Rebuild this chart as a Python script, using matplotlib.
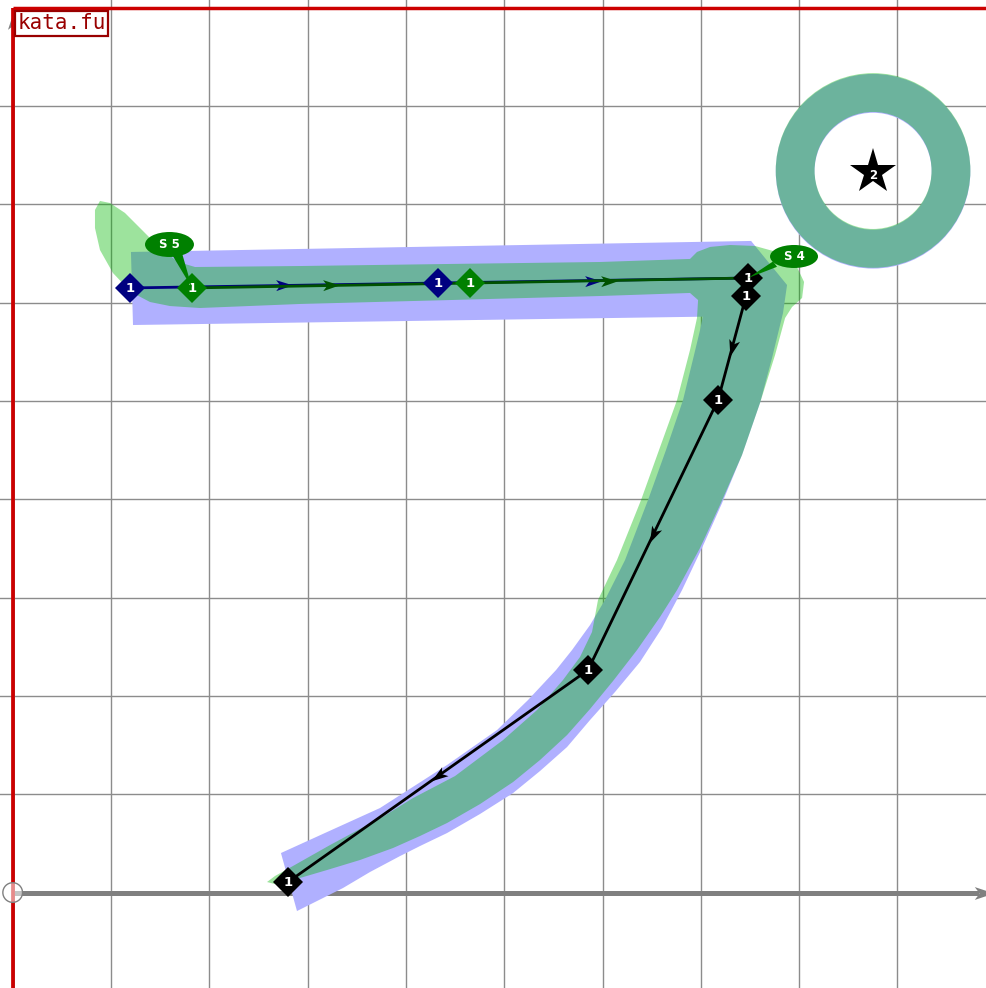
#!/usr/bin/env python3
"""
Stroke diagram for a kana: reference brush outline, traced outline,
stroke paths and labels on a square grid
"""

import matplotlib
matplotlib.use("Agg")
import matplotlib.pyplot as plt
import numpy as np
from matplotlib.markers import MarkerStyle
from matplotlib.patches import Circle, Ellipse, Polygon, Wedge
from matplotlib.path import Path
from matplotlib.transforms import Affine2D

# Canvas in grid units (one square = 1)
X_LIMITS = (-0.129, 9.911)
Y_LIMITS = (-0.971, 9.079)
GRID_X = [1, 2, 3, 4, 5, 6, 7, 8, 9]
GRID_Y = [1, 2, 3, 4, 5, 6, 7, 8]
FRAME_TOP = 9
Y_ARROW_TIP = 8.93

# Reference brush outline (lavender)
BLUE_BAR = [(1.203, 6.516), (7.511, 6.628), (7.521, 5.865), (1.224, 5.773)]
BLUE_CURVE = [
    (7.511, 6.628), (7.877, 6.180), (7.836, 5.895), (7.724, 5.437),
    (7.602, 4.980), (7.419, 4.451), (7.216, 3.962), (7.012, 3.505),
    (6.809, 3.077), (6.605, 2.691), (6.381, 2.345), (6.127, 2.040),
    (5.873, 1.755), (5.639, 1.480), (5.364, 1.236), (5.090, 1.012),
    (4.754, 0.799), (4.418, 0.605), (4.143, 0.473), (3.940, 0.371),
    (3.635, 0.209), (3.360, 0.046), (2.892, -0.188),
    (2.729, 0.402), (3.197, 0.615), (3.737, 0.860), (4.418, 1.297),
    (4.927, 1.653), (5.242, 1.958), (5.527, 2.263), (5.690, 2.467),
    (5.873, 2.721), (6.025, 2.976), (6.229, 3.382), (6.463, 3.993),
    (6.646, 4.502), (6.819, 5.010), (6.931, 5.468), (6.992, 5.722),
    (7.022, 5.865), (7.043, 6.027),
]
RING_CENTER = (8.752, 7.345)
RING_OUTER = 0.99
RING_INNER = 0.595

# Traced brush outline (translucent green)
GREEN_SHAPE = [
    (0.888, 7.035), (0.990, 7.014), (1.142, 6.913), (1.315, 6.740),
    (1.498, 6.556), (1.682, 6.414), (1.855, 6.363), (2.923, 6.373),
    (4.449, 6.394), (5.975, 6.414), (6.890, 6.445), (6.961, 6.516),
    (7.094, 6.567), (7.297, 6.587), (7.551, 6.577), (7.806, 6.506),
    (7.968, 6.384), (8.050, 6.211), (8.030, 6.048), (7.928, 5.956),
    (7.857, 5.844), (7.755, 5.468), (7.602, 4.980), (7.419, 4.451),
    (7.195, 3.942), (6.992, 3.505), (6.758, 3.077), (6.585, 2.803),
    (6.351, 2.467), (6.107, 2.152), (5.873, 1.867), (5.639, 1.602),
    (5.364, 1.348), (5.090, 1.124), (4.754, 0.900), (4.418, 0.707),
    (4.143, 0.575), (3.869, 0.453), (3.533, 0.331), (3.197, 0.229),
    (2.851, 0.127), (2.668, 0.086), (2.587, 0.107), (2.668, 0.168),
    (2.851, 0.270), (3.228, 0.483), (3.777, 0.778), (4.072, 0.961),
    (4.500, 1.185), (4.988, 1.551), (5.334, 1.857), (5.598, 2.162),
    (5.771, 2.396), (5.893, 2.650), (5.954, 2.976), (6.147, 3.382),
    (6.392, 3.993), (6.575, 4.502), (6.758, 5.010), (6.890, 5.519),
    (6.961, 5.844), (6.972, 6.027),
    (6.890, 6.099), (5.975, 6.068), (4.449, 6.027), (2.923, 5.987),
    (1.905, 5.946), (1.600, 5.966), (1.397, 6.007), (1.203, 6.109),
    (1.020, 6.302), (0.888, 6.536), (0.837, 6.760), (0.837, 6.943),
]

# Stroke paths (vertices carry the numbered diamonds)
NAVY_PATH = [(1.193, 6.150), (4.327, 6.200), (7.480, 6.251)]
GREEN_PATH = [(1.824, 6.150), (4.652, 6.200), (7.480, 6.251)]
BLACK_PATH = [(7.480, 6.251), (7.460, 6.068), (7.175, 5.010),
              (5.852, 2.263), (2.801, 0.107)]
STROKE_NUMBER = "1"

STAR_POS = (8.752, 7.330)
STAR_NUMBER = "2"

# Callout labels: text, ellipse centre, width, height, pointer base, pointer tip
CALLOUTS = [
    ("S 5", (1.595, 6.592), 0.498, 0.254,
     [(1.620, 6.490), (1.725, 6.495)], (1.824, 6.150)),
    ("S 4", (7.948, 6.470), 0.488, 0.234,
     [(7.735, 6.420), (7.775, 6.365)], (7.480, 6.251)),
]

BRAND = "kata.fu"
BRAND_POS = (0.497, 8.84)

LAVENDER = "#b0b0ff"
GREEN_FILL = (0.0, 0.72, 0.0, 0.385)
GRID_COLOR = "#8c8c8c"
AXIS_GRAY = "#808080"
FRAME_RED = "#cc0000"


def arrow_marker(angle):
    """Stealth-like arrowhead rotated to the given angle (radians)"""
    verts = [(0.5, 0.0), (-0.5, 0.33), (-0.25, 0.0), (-0.5, -0.33), (0.5, 0.0)]
    codes = [Path.MOVETO, Path.LINETO, Path.LINETO, Path.LINETO, Path.CLOSEPOLY]
    return MarkerStyle(Path(verts, codes), transform=Affine2D().rotate(angle))


def draw_grid(ax):
    for x in GRID_X:
        ax.axvline(x, color=GRID_COLOR, lw=1.0, zorder=1)
    for y in GRID_Y:
        ax.axhline(y, color=GRID_COLOR, lw=1.0, zorder=1)

    # axes
    ax.plot([0, X_LIMITS[1] - 0.08], [0, 0], color=AXIS_GRAY, lw=3.6,
            solid_capstyle="butt", zorder=1.5)
    ax.plot([X_LIMITS[1] - 0.03], [0], marker=arrow_marker(0.0), ms=14,
            color=AXIS_GRAY, mew=0, zorder=1.5)
    ax.plot([0, 0], [Y_LIMITS[0], Y_ARROW_TIP - 0.06], color=AXIS_GRAY, lw=2,
            zorder=1.5)
    ax.plot([0], [Y_ARROW_TIP - 0.06], marker=arrow_marker(np.pi / 2), ms=12,
            color=AXIS_GRAY, mew=0, zorder=1.5)

    # red frame
    ax.plot([0, 0], [Y_LIMITS[0], FRAME_TOP], color=FRAME_RED, lw=2.7,
            solid_capstyle="butt", zorder=6)
    ax.plot([0, X_LIMITS[1]], [FRAME_TOP, FRAME_TOP], color=FRAME_RED, lw=2.5,
            solid_capstyle="butt", zorder=6)
    ax.add_patch(Circle((0, 0), 0.10, facecolor=(1, 1, 1, 0.55),
                        edgecolor=AXIS_GRAY, lw=1.0, zorder=6))


def draw_outlines(ax):
    ax.add_patch(Polygon(BLUE_BAR, closed=True, facecolor=LAVENDER, lw=0, zorder=2))
    ax.add_patch(Polygon(BLUE_CURVE, closed=True, facecolor=LAVENDER, lw=0, zorder=2))
    ring_blue = (RING_CENTER[0], RING_CENTER[1] - 0.008)
    ax.add_patch(Wedge(ring_blue, RING_OUTER, 0, 360,
                       width=RING_OUTER - RING_INNER, facecolor=LAVENDER,
                       lw=0, zorder=2))
    ax.add_patch(Polygon(GREEN_SHAPE, closed=True, facecolor=GREEN_FILL, lw=0,
                         zorder=3))
    ax.add_patch(Wedge(RING_CENTER, RING_OUTER, 0, 360,
                       width=RING_OUTER - RING_INNER, facecolor=GREEN_FILL,
                       lw=0, zorder=3))


def draw_path(ax, pts, line_color, marker_color, z, marked=None):
    xs, ys = zip(*pts)
    ax.plot(xs, ys, color=line_color, lw=2.0, zorder=z, solid_capstyle="butt")
    for (x0, y0), (x1, y1) in zip(pts[:-1], pts[1:]):
        if np.hypot(x1 - x0, y1 - y0) < 0.5:
            continue
        ang = np.arctan2(y1 - y0, x1 - x0)
        ax.plot([(x0 + x1) / 2], [(y0 + y1) / 2], marker=arrow_marker(ang),
                ms=12, color=line_color, mew=0, zorder=z)
    marked = pts if marked is None else marked
    for x, y in marked:
        ax.plot([x], [y], marker="D", ms=15, color=marker_color, mew=0,
                zorder=z + 0.5)
        ax.text(x, y - 0.005, STROKE_NUMBER, color="white", fontsize=9.5,
                fontweight="bold", ha="center", va="center", zorder=z + 0.6)


def draw_labels(ax):
    ax.plot([STAR_POS[0]], [STAR_POS[1]], marker="*", ms=34.5, color="black",
            mew=0, zorder=7)
    ax.text(STAR_POS[0], STAR_POS[1] - 0.04, STAR_NUMBER, color="white",
            fontsize=8.5, fontweight="bold", ha="center", va="center", zorder=8)

    for text, centre, w, h, base, tip in CALLOUTS:
        ax.add_patch(Polygon(base + [tip], closed=True, facecolor="#008000",
                             lw=0, zorder=8))
        ax.add_patch(Ellipse(centre, w, h, facecolor="#008000", lw=0, zorder=8))
        ax.text(centre[0], centre[1], text, color="white", fontsize=8.5,
                fontweight="bold", ha="center", va="center", zorder=9)

    ax.text(BRAND_POS[0], BRAND_POS[1], BRAND, color="#990000", fontsize=15,
            family="DejaVu Sans Mono", ha="center", va="center", zorder=9,
            bbox=dict(boxstyle="square,pad=0.12", facecolor="white",
                      edgecolor="#990000", lw=1.6))


def main():
    fig = plt.figure(figsize=(9.87, 9.88), dpi=100)
    ax = fig.add_axes([0, 0, 1, 1])
    ax.set_xlim(*X_LIMITS)
    ax.set_ylim(*Y_LIMITS)
    ax.axis("off")

    draw_grid(ax)
    draw_outlines(ax)
    draw_path(ax, NAVY_PATH, "#000080", "#000080", 4, marked=NAVY_PATH[:-1])
    draw_path(ax, GREEN_PATH, "#005200", "#008000", 4.2, marked=GREEN_PATH[:-1])
    draw_path(ax, BLACK_PATH, "black", "black", 5)
    draw_labels(ax)

    fig.savefig("out.png", dpi=100)
    plt.close(fig)


if __name__ == "__main__":
    main()
